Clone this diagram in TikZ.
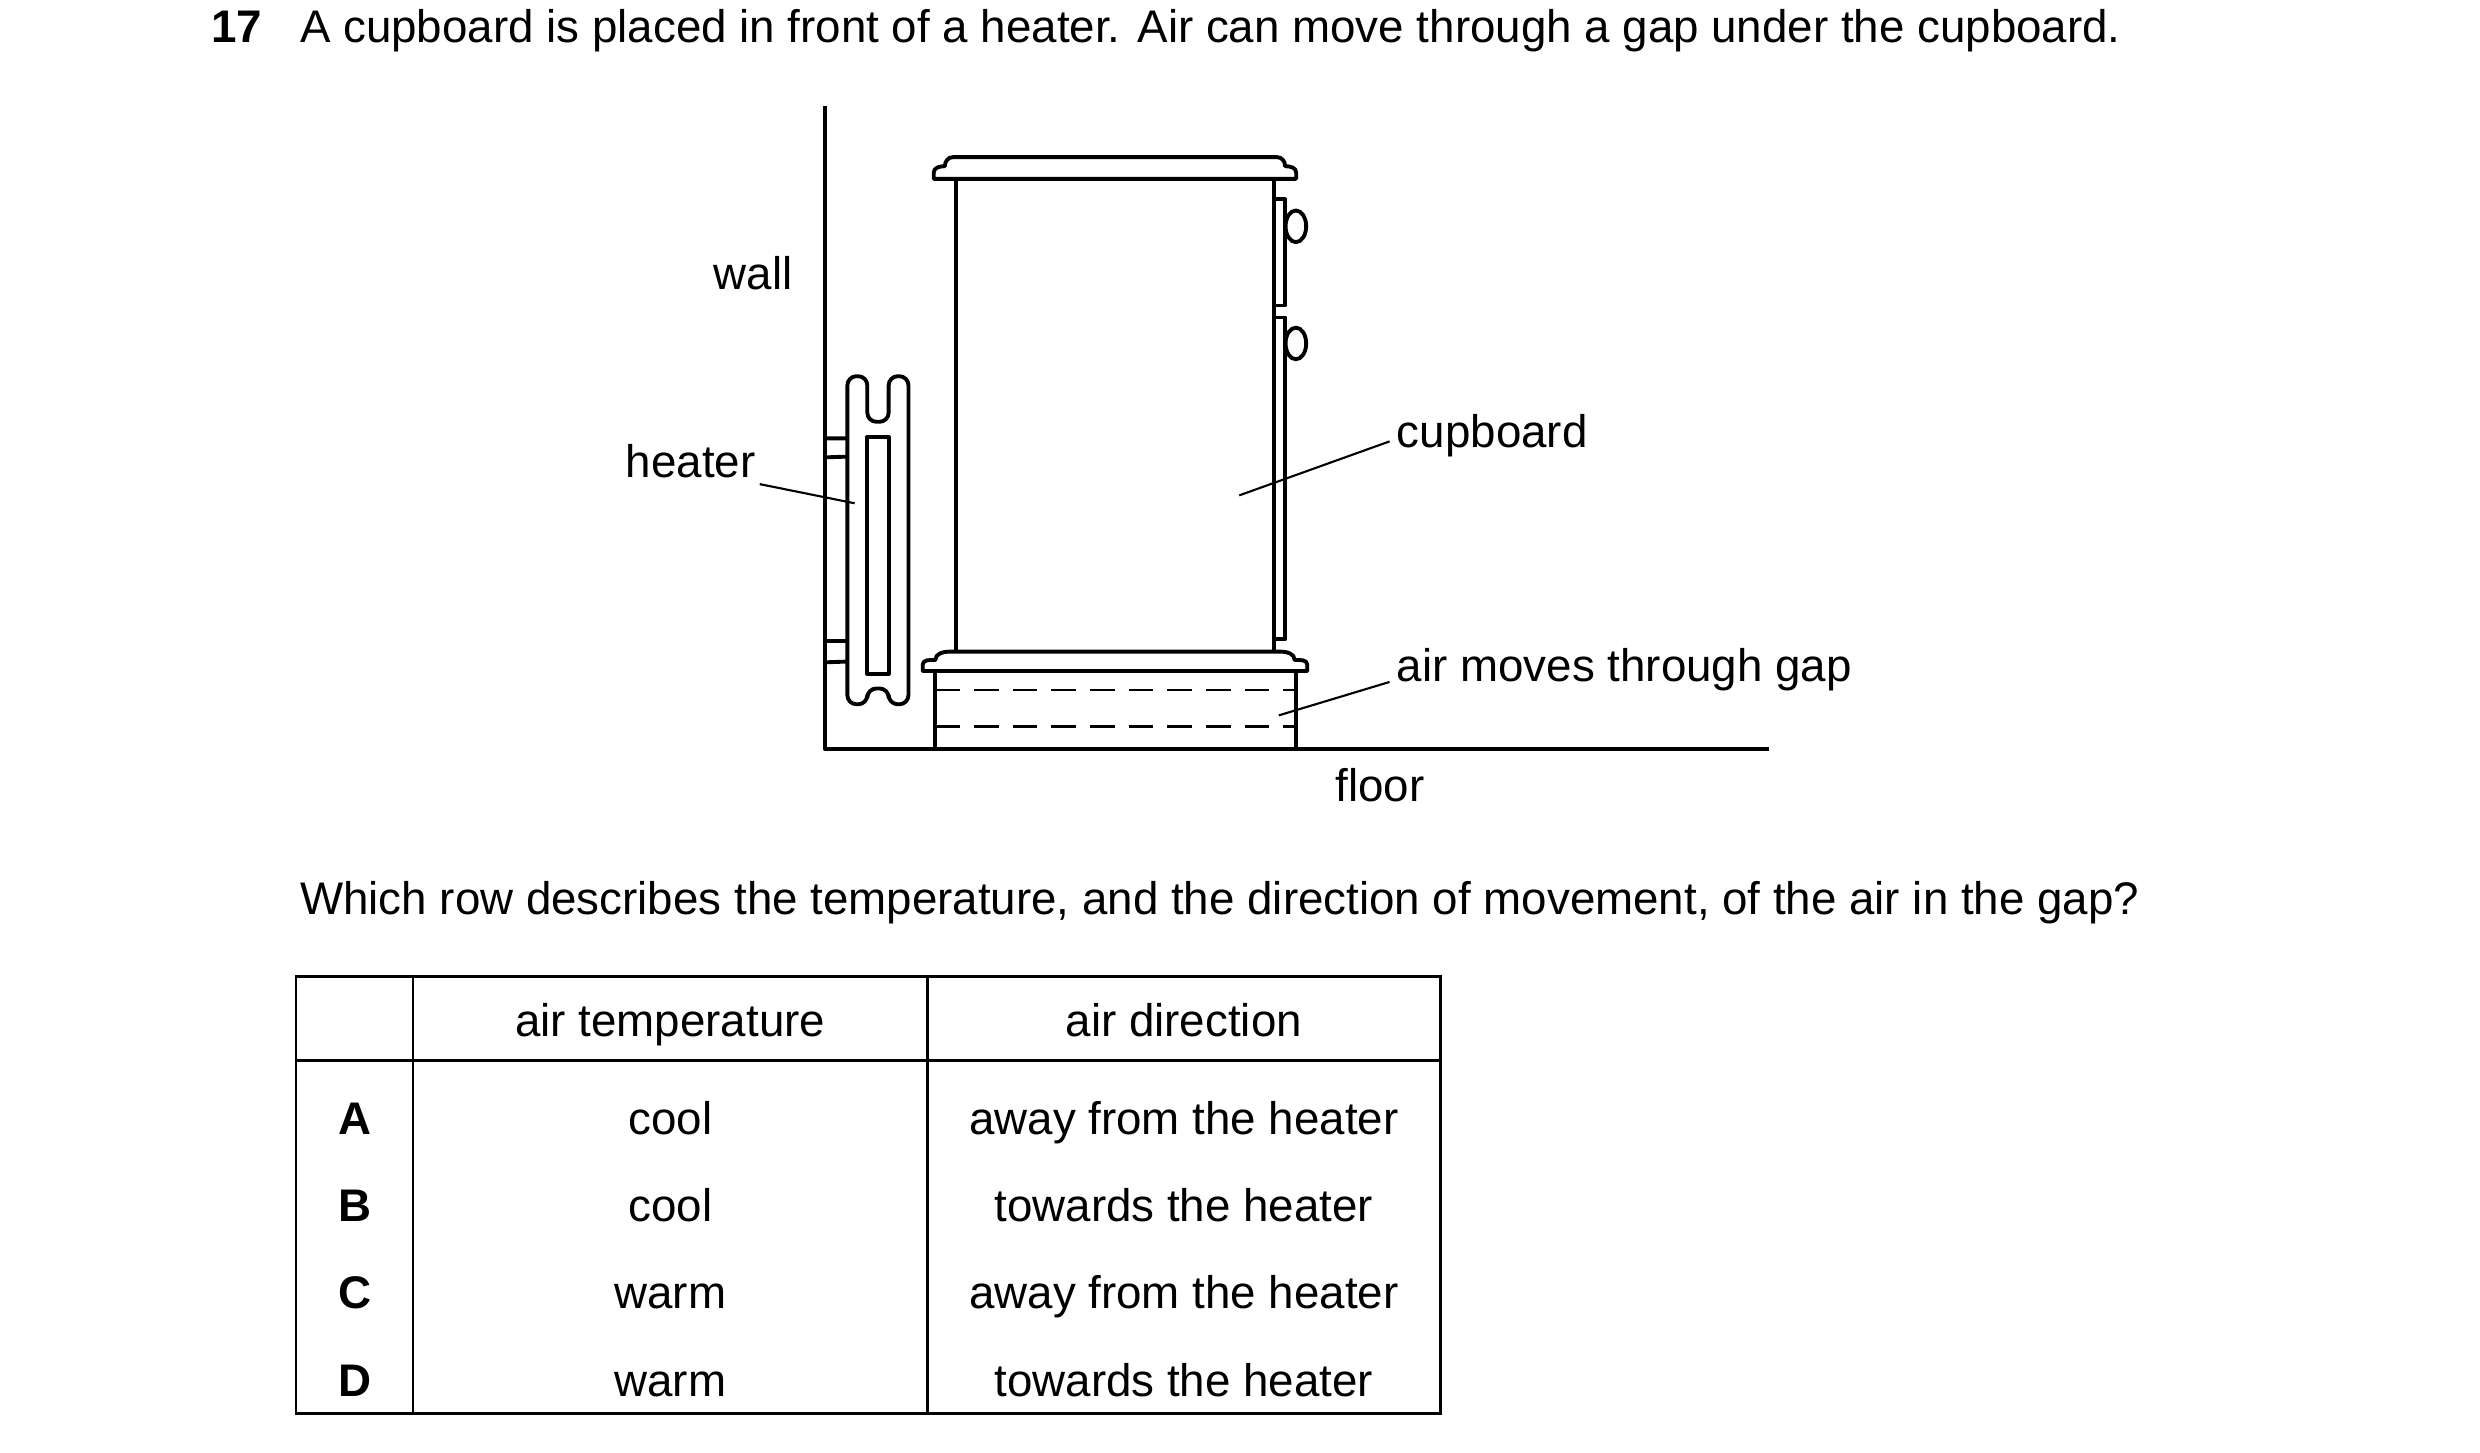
\documentclass[tikz,border=0pt]{standalone}
\usepackage{fontspec}
\setmainfont{Liberation Sans}
\usetikzlibrary{positioning}
\tikzset{
thickline/.style={line width=1.1pt, line join=round}, % outlines of the drawing
leader/.style={line width=0.6pt}, % label pointer lines
lbl/.style={font=\fontsize{13}{16}\selectfont, inner sep=1pt, text height=9.5pt, text depth=2.5pt, yshift=-1.3pt}, % text labels
cell/.style={font=\fontsize{13}{16}\selectfont, text height=9.5pt, text depth=2.5pt, yshift=-1.3pt}, % table entries
}

\begin{document}
\begin{tikzpicture}[x=0.01583cm, y=-0.01583cm]
    \useasboundingbox (0,0) rectangle (1567,918);

    % question
    \node[lbl, anchor=west, font=\fontsize{13}{16}\selectfont\bfseries] (num) at (131,16) {17};
    \node[lbl, anchor=west] (q) at (187,16) {A cupboard is placed in front of a heater. Air can move through a gap under the cupboard.};

    % wall and floor
    \draw[thickline] (521,67) -- (521,473) -- (1118,473);

    % heater
    \draw[thickline, rounded corners=2.6pt] (548,266.5) -- (548,237.7) -- (535.4,237.7) -- (535.4,445) -- (548,445) -- (548,435)
        -- (561.5,435) -- (561.5,445) -- (574,445) -- (574,237.7) -- (561.5,237.7) -- (561.5,266.5) -- cycle;
    \draw[thickline] (548,276) rectangle (561.5,425.6);
    \draw[thickline] (521,277) -- (535.4,277) (521,289) -- (535.4,288.5);
    \draw[thickline] (521,405) -- (535.4,405) (521,418.5) -- (535.4,418);

    % cupboard
    \draw[thickline] (590,113) -- (590,109) to[out=90,in=180] (597,105) to[out=90,in=180] (602,99.3) -- (807,99.3)
        to[out=0,in=90] (812,105) to[out=0,in=90] (819,109) -- (819,113) -- cycle;
    \draw[thickline] (604,113) -- (604,411.7) (805,113) -- (805,411.7);
    \draw[thickline] (805,126) rectangle (812,193);
    \draw[thickline] (805,200.6) rectangle (812,404);
    \draw[thickline] (818.8,143) ellipse [x radius=6.5, y radius=10];
    \draw[thickline] (818.8,217) ellipse [x radius=6.5, y radius=10];
    \draw[thickline] (583,424) -- (583,420) to[out=90,in=180] (591,417) to[out=90,in=180] (600,411.7) -- (809,411.7)
        to[out=0,in=90] (818,417) to[out=0,in=90] (826,420) -- (826,424) -- cycle;
    \draw[thickline] (591,424) rectangle (819,473);
    \draw[dashed, line width=0.7pt, dash pattern=on 7pt off 4pt] (591,436) -- (819,436) (591,459) -- (819,459);

    % labels
    \node[lbl] (wall) at (476,172) {wall};
    \node[lbl, anchor=east] (heater) at (480,291) {heater};
    \node[lbl, anchor=west] (cupboard) at (880,272) {cupboard};
    \node[lbl, anchor=west] (gap) at (880,420) {air moves through gap};
    \node[lbl] (floor) at (872,496) {floor};
    \coordinate (h) at (540,318);
    \coordinate (c) at (783,313);
    \coordinate (g) at (808,452);
    \draw[leader] (heater.south east) ++(0,-4) -- (h);
    \draw[leader] (cupboard.west) ++(-2,4) -- (c);
    \draw[leader] (gap.west) ++(-2,8) -- (g);

    \node[lbl, anchor=west] (ask) at (187,567) {Which row describes the temperature, and the direction of movement, of the air in the gap?};

    % table
    \draw[line width=0.8pt] (187,617) rectangle (910,893);
    \draw[line width=0.8pt] (261,617) -- (261,893) (586,617) -- (586,893) (187,670) -- (910,670);
    \node[cell] (h1) at (423.5,644) {air temperature};
    \node[cell] (h2) at (748,644) {air direction};
    \foreach \y/\k/\t/\d in {706/A/cool/away from the heater, 761/B/cool/towards the heater,
                             816/C/warm/away from the heater, 872/D/warm/towards the heater} {
        \node[cell, font=\fontsize{13}{16}\selectfont\bfseries] (k\k) at (224,\y) {\k};
        \node[cell] (t\k) at (423.5,\y) {\t};
        \node[cell] (d\k) at (748,\y) {\d};
    }
\end{tikzpicture}
\end{document}
